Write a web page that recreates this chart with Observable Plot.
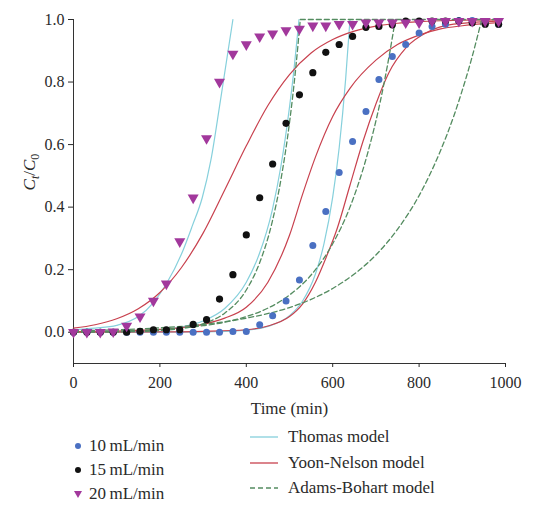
<!DOCTYPE html>
<html><head><meta charset="utf-8">
<script src="https://cdn.jsdelivr.net/npm/d3@7"></script>
<script src="https://cdn.jsdelivr.net/npm/@observablehq/plot@0.6"></script>
<style>
body{margin:0;background:#fff;}
#wrap{position:relative;width:534px;height:507px;font-family:"Liberation Serif","DejaVu Serif",serif;color:#2a2a2a;}
.leg{position:absolute;height:20px;font-size:17px;white-space:nowrap;display:flex;align-items:center;}
.leg svg{margin-right:6px;}
</style></head><body><div id="wrap"></div>
<script>
// ---- data ----
const time = [0, 31, 62, 92, 123, 154, 185, 215, 246, 277, 308, 338, 369, 400, 431, 461, 492, 523, 554, 584, 615, 646, 677, 707, 738, 769, 800, 830, 861, 892, 923, 953, 984];
const flow10 = [0, 0, 0, 0, 0, 0, 0, 0, 0, 0, 0, 0.0, 0.002, 0.002, 0.024, 0.053, 0.10, 0.167, 0.277, 0.386, 0.511, 0.61, 0.706, 0.808, 0.882, 0.92, 0.957, 0.978, 0.985, 0.997, 0.997, 0.99, 0.985];
const flow15 = [0, 0, 0, 0, 0.0, 0.003, 0.008, 0.008, 0.008, 0.025, 0.04, 0.106, 0.184, 0.311, 0.43, 0.538, 0.668, 0.759, 0.83, 0.895, 0.92, 0.946, 0.975, 0.978, 0.983, 0.995, 0.995, 0.995, 0.995, 0.995, 0.99, 0.985, 0.985];
const flow20 = [0, 0, 0, 0.002, 0.02, 0.05, 0.10, 0.155, 0.29, 0.43, 0.62, 0.80, 0.89, 0.92, 0.945, 0.955, 0.965, 0.97, 0.98, 0.98, 0.985, 0.985, 0.99, 0.99, 0.99, 0.99, 0.99, 0.995, 0.995, 0.995, 0.995, 0.995, 0.995];

const seriesLabels = ["10\u2009mL/min", "15\u2009mL/min", "20\u2009mL/min"];
const modelLabels = ["Thomas model", "Yoon-Nelson model", "Adams-Bohart model"];
const xTicks = [0, 200, 400, 600, 800, 1000];
const yTicks = [0, 0.2, 0.4, 0.6, 0.8, 1.0];

// Thomas model curves
const thomas10T = [0, 200, 300, 400, 450, 500, 530, 560, 580, 600, 615, 630, 640];
const thomas10C = [0, 0.0001, 0.0008, 0.0065, 0.0185, 0.053, 0.099, 0.186, 0.284, 0.432, 0.59, 0.81, 1.0];
const thomas15T = [0, 100, 200, 250, 300, 350, 400, 430, 460, 480, 500, 510, 522];
const thomas15C = [0.0004, 0.0018, 0.008, 0.017, 0.036, 0.076, 0.16, 0.25, 0.39, 0.53, 0.72, 0.835, 1.0];
const thomas20T = [0, 50, 100, 150, 185, 215, 250, 275, 298, 318, 340, 369];
const thomas20C = [0.008, 0.013, 0.022, 0.05, 0.095, 0.155, 0.25, 0.34, 0.43, 0.55, 0.74, 1.0];
// Yoon-Nelson model curves
const yoon10T = [0, 200, 300, 400, 450, 500, 530, 560, 585, 610, 640, 670, 700, 730, 770, 820, 880, 984];
const yoon10C = [0, 0.001, 0.003, 0.008, 0.02, 0.05, 0.09, 0.16, 0.24, 0.33, 0.47, 0.61, 0.73, 0.83, 0.91, 0.96, 0.985, 0.995];
const yoon15T = [0, 100, 200, 300, 350, 400, 450, 500, 530, 560, 600, 640, 700, 750, 800, 850, 900, 984];
const yoon15C = [0.002, 0.004, 0.009, 0.025, 0.045, 0.08, 0.16, 0.31, 0.44, 0.56, 0.69, 0.78, 0.87, 0.92, 0.95, 0.97, 0.98, 0.99];
const yoon20T = [0, 50, 100, 150, 200, 250, 300, 350, 400, 450, 500, 550, 600, 650, 700, 750, 800, 850, 900, 984];
const yoon20C = [0.013, 0.024, 0.043, 0.075, 0.127, 0.207, 0.317, 0.455, 0.596, 0.725, 0.824, 0.893, 0.936, 0.963, 0.979, 0.988, 0.993, 0.996, 0.998, 0.999];
// Adams-Bohart model curves
const adamsAT = [0, 100, 200, 250, 300, 350, 400, 430, 460, 480, 500, 515, 525];
const adamsAC = [0.0002, 0.001, 0.0055, 0.012, 0.027, 0.061, 0.135, 0.219, 0.353, 0.487, 0.670, 0.852, 1.0];
const adamsATopT = [525, 984];
const adamsATopC = [1.0, 1.0];
const adamsBT = [0, 100, 200, 300, 350, 400, 450, 500, 550, 600, 640, 680, 710, 730, 745];
const adamsBC = [0.0015, 0.0037, 0.0087, 0.021, 0.032, 0.05, 0.077, 0.119, 0.183, 0.283, 0.40, 0.568, 0.737, 0.878, 1.0];
const adamsCT = [0, 100, 200, 300, 400, 500, 550, 600, 650, 700, 750, 800, 850, 880, 900, 920, 945];
const adamsCC = [0.0046, 0.008, 0.014, 0.025, 0.045, 0.079, 0.105, 0.14, 0.186, 0.247, 0.329, 0.437, 0.582, 0.69, 0.774, 0.867, 1.0];

// ---- build tables ----
const curves = [
  {id: "T10", model: "Thomas", t: thomas10T, c: thomas10C},
  {id: "T15", model: "Thomas", t: thomas15T, c: thomas15C},
  {id: "T20", model: "Thomas", t: thomas20T, c: thomas20C},
  {id: "Y10", model: "Yoon", t: yoon10T, c: yoon10C},
  {id: "Y15", model: "Yoon", t: yoon15T, c: yoon15C},
  {id: "Y20", model: "Yoon", t: yoon20T, c: yoon20C},
  {id: "A1", model: "Adams", t: adamsAT, c: adamsAC},
  {id: "A1top", model: "Adams", t: adamsATopT, c: adamsATopC},
  {id: "A2", model: "Adams", t: adamsBT, c: adamsBC},
  {id: "A3", model: "Adams", t: adamsCT, c: adamsCC}
];
const modelRows = curves.flatMap(k => k.t.map((t, i) => ({id: k.id, model: k.model, t, c: k.c[i]})));
const pts = (arr) => time.map((t, i) => ({t, c: arr[i]}));

const colBlue = "#4a70c2", colBlack = "#111111", colMag = "#a2389c";
const colThomas = "#86d0dc", colYoon = "#c8414e", colAdams = "#548c60";
const fontFam = "Liberation Serif, DejaVu Serif, serif";

const W = 534, H = 425;
const chart = Plot.plot({
  width: W, height: H,
  marginLeft: 73, marginRight: 29, marginTop: 19, marginBottom: H - 363,
  x: {domain: [0, 1000]},
  y: {domain: [-0.1, 1]},
  style: {fontFamily: fontFam, fontSize: "16px", color: "#2a2a2a", background: "white"},
  marks: [
    Plot.ruleY([-0.1], {stroke: "#333", strokeWidth: 1}),
    Plot.ruleX([0], {y1: -0.1, y2: 1, stroke: "#333", strokeWidth: 1}),
    Plot.axisX(xTicks, {tickSize: 4, tickPadding: 9, label: null, fontSize: 16, tickFormat: d => String(d)}),
    Plot.axisY(yTicks, {tickSize: 5, tickPadding: 4, label: null, fontSize: 16, tickFormat: d => d.toFixed(1)}),
    Plot.text(["Time (min)"], {frameAnchor: "bottom", dy: 50, fontSize: 17, fill: "#2a2a2a"}),
    Plot.line(modelRows.filter(d => d.model === "Thomas"), {x: "t", y: "c", z: "id", stroke: colThomas, strokeWidth: 1.2, curve: "monotone-x"}),
    Plot.line(modelRows.filter(d => d.model === "Yoon"), {x: "t", y: "c", z: "id", stroke: colYoon, strokeWidth: 1.2, curve: "monotone-x"}),
    Plot.line(modelRows.filter(d => d.model === "Adams"), {x: "t", y: "c", z: "id", stroke: colAdams, strokeWidth: 1.3, strokeDasharray: "5,3", curve: "monotone-x"}),
    Plot.dot(pts(flow10), {x: "t", y: "c", r: 3.5, fill: colBlue, stroke: "none"}),
    Plot.dot(pts(flow15), {x: "t", y: "c", r: 3.6, fill: colBlack, stroke: "none"}),
    Plot.dot(pts(flow20), {x: "t", y: "c", r: 4.1, symbol: "triangle", rotate: 180, fill: colMag, stroke: "none"})
  ]
});
const wrap = document.getElementById("wrap");
wrap.appendChild(chart);

// y-axis title with subscripts
const svg = d3.select(chart);
const yl = svg.append("text")
  .attr("transform", "translate(35,172) rotate(-90)")
  .attr("text-anchor", "middle")
  .attr("font-family", fontFam).attr("font-size", 17).attr("fill", "#2a2a2a");
yl.append("tspan").attr("font-style", "italic").text("C");
yl.append("tspan").attr("font-style", "italic").attr("font-size", 12).attr("dy", 4).text("t");
yl.append("tspan").attr("dy", -4).text("/");
yl.append("tspan").attr("font-style", "italic").text("C");
yl.append("tspan").attr("font-size", 12).attr("dy", 4).text("0");

// ---- legend (HTML below the plot svg) ----
const leftRows = [446, 470, 494];
const rightRows = [437, 463, 488];
const markerSvgs = [
  `<svg width="10" height="10"><circle cx="5" cy="5" r="3" fill="${colBlue}"/></svg>`,
  `<svg width="10" height="10"><circle cx="5" cy="5" r="3" fill="${colBlack}"/></svg>`,
  `<svg width="10" height="10"><path d="M1,2 L9,2 L5,9 Z" fill="${colMag}"/></svg>`
];
seriesLabels.forEach((lab, i) => {
  const d = document.createElement("div");
  d.className = "leg";
  d.style.left = "73px"; d.style.top = (leftRows[i] - 10) + "px";
  d.innerHTML = markerSvgs[i] + `<span>${lab}</span>`;
  wrap.appendChild(d);
});
const lineSw = [
  `<svg width="28" height="6"><line x1="0" x2="28" y1="3" y2="3" stroke="${colThomas}" stroke-width="1.3"/></svg>`,
  `<svg width="28" height="6"><line x1="0" x2="28" y1="3" y2="3" stroke="${colYoon}" stroke-width="1.3"/></svg>`,
  `<svg width="28" height="6"><line x1="0" x2="28" y1="3" y2="3" stroke="${colAdams}" stroke-width="1.3" stroke-dasharray="5,3"/></svg>`
];
modelLabels.forEach((lab, i) => {
  const d = document.createElement("div");
  d.className = "leg";
  d.style.left = "250px"; d.style.top = (rightRows[i] - 10) + "px";
  d.innerHTML = lineSw[i].replace('<svg', '<svg style="margin-right:10px"') + `<span>${lab}</span>`;
  wrap.appendChild(d);
});
</script></body></html>
